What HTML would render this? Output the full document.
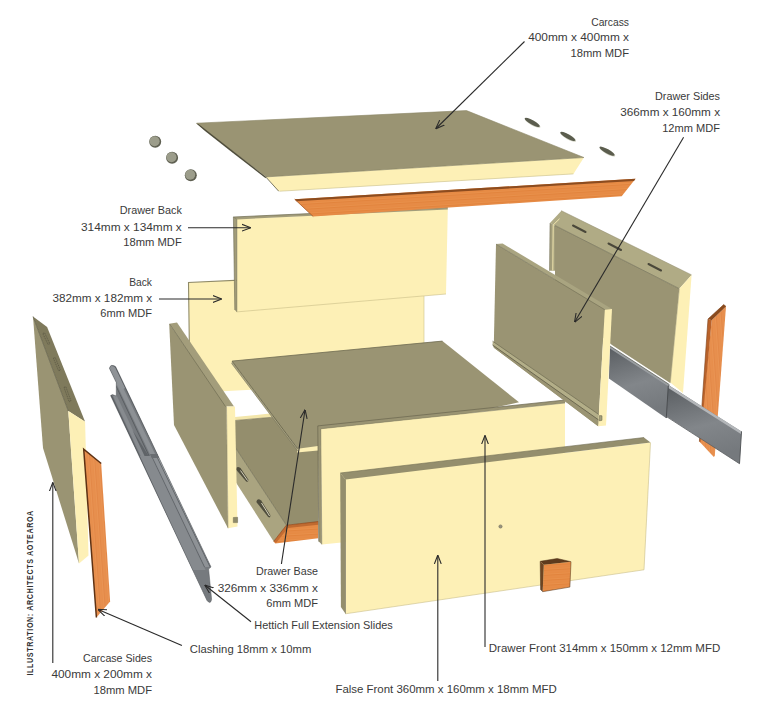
<!DOCTYPE html>
<html><head><meta charset="utf-8">
<style>
html,body{margin:0;padding:0;background:#fff;}
body{width:758px;height:708px;overflow:hidden;}
svg{display:block;}
text{font-family:"Liberation Sans",sans-serif;font-size:11.5px;fill:#3a3a3a;}
</style></head>
<body>
<svg width="758" height="708" viewBox="0 0 758 708">
<defs>
<marker id="ah" viewBox="0 0 10 10" refX="9.5" refY="5" markerWidth="9" markerHeight="9" markerUnits="userSpaceOnUse" orient="auto">
<path d="M0,1.2 L10,5 L0,8.8" fill="none" stroke="#2a2a2a" stroke-width="1.2"/>
</marker>
<linearGradient id="sg1" x1="0" y1="0" x2="0.25" y2="1">
<stop offset="0" stop-color="#585c60"/><stop offset="0.6" stop-color="#82868a"/><stop offset="1" stop-color="#75797d"/>
</linearGradient>
<pattern id="grainH" patternUnits="userSpaceOnUse" width="60" height="5" patternTransform="rotate(-3.5)">
<rect width="60" height="5" fill="#e5873f"/>
<rect y="0.8" width="60" height="0.9" fill="#ea9450"/>
<rect y="2.6" width="60" height="0.5" fill="#df7f3a"/>
<rect y="3.6" width="60" height="0.8" fill="#e99250"/>
</pattern>
<pattern id="grainV" patternUnits="userSpaceOnUse" width="5" height="60" patternTransform="rotate(-4)">
<rect width="5" height="60" fill="#e68b49"/>
<rect x="0.8" width="0.9" height="60" fill="#eb9858"/>
<rect x="2.6" width="0.5" height="60" fill="#df8443"/>
<rect x="3.6" width="0.8" height="60" fill="#ea9656"/>
</pattern>
</defs>
<rect width="758" height="708" fill="#fff"/>

<!-- ===== dowels left ===== -->
<g>
<ellipse cx="155.2" cy="141.8" rx="6" ry="6" fill="#5f6052"/>
<ellipse cx="154.6" cy="141.2" rx="5" ry="5" fill="#9c9d8b"/>
<ellipse cx="172.1" cy="157.8" rx="6" ry="6" fill="#5f6052"/>
<ellipse cx="171.5" cy="157.2" rx="5" ry="5" fill="#9c9d8b"/>
<ellipse cx="190.8" cy="175.3" rx="6" ry="6" fill="#5f6052"/>
<ellipse cx="190.2" cy="174.7" rx="5" ry="5" fill="#9c9d8b"/>
</g>
<!-- dowels right -->
<g>
<ellipse cx="532.7" cy="123.0" rx="8.8" ry="2.5" transform="rotate(29 532.7 123.0)" fill="#d2d3c4"/>
<ellipse cx="532.2" cy="122.4" rx="8.6" ry="2.2" transform="rotate(29 532.2 122.4)" fill="#5b5d4e"/>
<ellipse cx="568.3" cy="137.0" rx="8.8" ry="2.5" transform="rotate(29 568.3 137.0)" fill="#d2d3c4"/>
<ellipse cx="567.8" cy="136.4" rx="8.6" ry="2.2" transform="rotate(29 567.8 136.4)" fill="#5b5d4e"/>
<ellipse cx="607.5" cy="151.8" rx="8.8" ry="2.5" transform="rotate(29 607.5 151.8)" fill="#d2d3c4"/>
<ellipse cx="607.0" cy="151.2" rx="8.6" ry="2.2" transform="rotate(29 607.0 151.2)" fill="#5b5d4e"/>
</g>

<!-- ===== carcass top panel ===== -->
<polygon points="196.1,123.3 466.5,110.6 583.9,157.5 266.2,177" fill="#9a9473"/>
<polygon points="266.2,177 583.9,157.5 573.4,173.9 278.8,191.3" fill="#fdf0b6"/>
<polygon points="196.1,123.3 198.5,123.9 266.2,177 265.6,178.2 232,152.2 205,131" fill="#4f4d3b"/>
<line x1="266" y1="177.2" x2="278.8" y2="191.3" stroke="#6d6a50" stroke-width="0.9"/>
<polyline points="196.6,123.2 466.5,110.6 583.9,157.5" fill="none" stroke="#8b8667" stroke-width="0.6"/>
<line x1="265.8" y1="176.9" x2="583.9" y2="157.5" stroke="#8a8566" stroke-width="0.7"/>
<line x1="280" y1="191.2" x2="573.4" y2="173.9" stroke="#c8bd8a" stroke-width="0.6"/>

<!-- ===== back panel ===== -->
<polygon points="188.5,282.5 424,271.5 424,381 190,393" fill="#fdf0b6"/>
<polyline points="190,393 188.5,282.5 424,271.5" fill="none" stroke="#8f8a68" stroke-width="1.1"/>
<polyline points="424,296 424,381" fill="none" stroke="#cfc48f" stroke-width="0.6"/>

<!-- ===== drawer back panel ===== -->
<polygon points="236.8,219 447.8,209 446,294 236.8,311.9" fill="#fdf0b6"/>
<polygon points="233.4,217 447.8,207.4 447.8,209.4 236.8,219.4" fill="#a29c79"/>
<line x1="233.4" y1="217" x2="447.8" y2="207.4" stroke="#6f6b52" stroke-width="0.7"/>
<polygon points="233.4,217 236.8,219.4 236.8,311.9 234.8,310" fill="#a29c79"/>
<polyline points="234.8,310 233.4,217 236.8,219.4 236.8,311.9" fill="none" stroke="#6f6b52" stroke-width="0.6"/>
<line x1="236.8" y1="311.9" x2="446" y2="294" stroke="#c9bd88" stroke-width="0.6"/>

<!-- ===== orange clashing top ===== -->
<polygon points="294.7,199.2 635.5,178.8 621.7,196.3 313.2,216.5" fill="url(#grainH)"/>
<polygon points="294.7,199.2 635.5,178.8 634,181 296.5,201.3" fill="#8c4c1f"/>
<line x1="294.7" y1="199.2" x2="313.2" y2="216.5" stroke="#a85a26" stroke-width="0.8"/>

<!-- ===== drawer interior (behind left drawer side) ===== -->
<polygon points="235,420.5 275,417 297,449 318,446 318,522 286.4,525.2 235,447" fill="#948e6d"/>
<polygon points="235,417.1 272,413.3 275,417 235,420.5" fill="#f3e6ab"/>
<line x1="235" y1="420.5" x2="275" y2="417" stroke="#7f7a5e" stroke-width="0.7"/>
<polygon points="235,447 286.4,525.2 273.7,541.4 235,481" fill="#aaa480"/>
<line x1="235" y1="447" x2="286.4" y2="525.2" stroke="#6d6a50" stroke-width="0.7"/>
<polygon points="273.7,541.4 286.4,525.2 318.2,521.6 318.2,538.3 275.3,543.4" fill="url(#grainH)"/>
<polygon points="286.4,525.2 318.2,521.6 318.2,524.8 288,528" fill="#c06a30"/>
<polygon points="273.7,541.4 286.4,525.2 288,528 276,543" fill="#c46c32"/>
<polyline points="273.7,541.4 286.4,525.2 318.2,521.6" fill="none" stroke="#7a4019" stroke-width="0.6"/>

<polygon points="297,447.5 318,445.5 318,450.5 297,452.5" fill="#fdf0b6"/>
<g>
<path d="M236,469.5 Q236.5,465.5 240.5,468 L248.3,479.5 Q248.6,482.8 246.2,481.5 Z" fill="#4f4d3d"/>
<line x1="240.5" y1="470.5" x2="247.6" y2="480.6" stroke="#e4e0c8" stroke-width="0.9"/>
<path d="M256.3,502 Q257,497.5 261.2,500.5 L270.3,515 Q270.6,518.5 268.2,517 Z" fill="#4f4d3d"/>
<line x1="261.5" y1="503" x2="269.6" y2="516" stroke="#e4e0c8" stroke-width="0.9"/>
</g>

<!-- ===== drawer base ===== -->
<polygon points="232.1,361.1 442.4,341.1 519,402.3 318,446 297.6,448.7" fill="#9a9473"/>
<polygon points="232.1,361.1 297.6,448.7 298,451.5 231.5,363.3" fill="#aaa482"/>
<line x1="232.1" y1="361.1" x2="297.6" y2="448.7" stroke="#625f48" stroke-width="0.8"/>
<line x1="231.5" y1="363.3" x2="298" y2="451.5" stroke="#76725a" stroke-width="0.6"/>
<line x1="232.1" y1="361.1" x2="442.4" y2="341.1" stroke="#6f6b52" stroke-width="0.8"/>

<!-- ===== left drawer side ===== -->
<polygon points="169.2,323.7 226.5,406.5 228,528.3 174,425" fill="#9a9473"/>
<polygon points="169.2,323.7 177,322.5 234,406.5 225.5,406.5" fill="#a39d7b"/>
<line x1="169.6" y1="324" x2="225.5" y2="406.5" stroke="#6f6b52" stroke-width="0.7"/>
<polygon points="226.5,406.5 235,406.5 237.5,526.5 228,528.3" fill="#fdf0b6"/>
<line x1="226.5" y1="406.5" x2="228" y2="528.3" stroke="#8a8566" stroke-width="0.5"/>
<polygon points="233.3,517.5 237.6,517.3 237.6,522.6 233.3,522.6" fill="#8f8a6a" stroke="#6f6b52" stroke-width="0.5"/>

<!-- ===== drawer front ===== -->
<polygon points="320.8,428.8 565,403 565,520 321.8,544.4" fill="#fdf0b6"/>
<polygon points="317.8,425.9 565.1,400 565.1,403 320.8,428.8" fill="#9a9473"/>
<polygon points="317.8,425.9 320.8,428.8 321.8,544.4 318.8,541.5" fill="#9a9473"/>
<polyline points="318.8,541.5 317.8,425.9 565.1,400" fill="none" stroke="#6a664f" stroke-width="0.7"/>
<line x1="320.8" y1="428.8" x2="565" y2="403" stroke="#7f7a5e" stroke-width="0.5"/>
<line x1="320.8" y1="428.8" x2="321.8" y2="544.4" stroke="#7f7a5e" stroke-width="0.5"/>

<!-- ===== right carcass side ===== -->
<polygon points="555,225.5 679.3,288.7 670.5,383.3 612,345 555,300" fill="#9a9473"/>
<polygon points="550,223 561.4,210.7 691.6,274.9 679.3,288.7 555,225.5" fill="#b0ab85"/>
<line x1="555" y1="225.5" x2="679.3" y2="288.7" stroke="#6f6b52" stroke-width="0.7"/>
<line x1="561.1" y1="210.6" x2="691.6" y2="274.9" stroke="#8c8767" stroke-width="0.5"/>
<polygon points="550,223 555,225.5 555,270.7 549.5,270.7" fill="#a39e7b"/>
<line x1="550" y1="223" x2="549.5" y2="270.7" stroke="#6f6b52" stroke-width="0.5"/>
<polyline points="552.8,270.5 553.2,225 559.5,218.8" fill="none" stroke="#f3e8b0" stroke-width="1"/>
<polygon points="679.3,288.7 691.6,274.9 683,393 670.3,382.5" fill="#fdf0b6"/>
<line x1="679.3" y1="288.7" x2="670.3" y2="382.5" stroke="#a29c78" stroke-width="0.6"/>
<g stroke="#4a483a" stroke-width="2" stroke-linecap="round">
<line x1="573" y1="225.5" x2="585.5" y2="232"/>
<line x1="608.5" y1="243.5" x2="621" y2="250"/>
<line x1="648.5" y1="264" x2="661" y2="270.5"/>
</g>

<!-- ===== orange clashing right ===== -->
<polygon points="711.7,320.3 726,306.5 714.8,455.8 713.8,457 699.6,441.8" fill="url(#grainV)"/>
<polygon points="708,319 711.7,320.3 700.5,442.5 699.4,441.5" fill="#b9622a"/>
<polygon points="708,319 723.7,304.6 726,306.5 711.7,320.3" fill="#8a4a1c"/>
<polyline points="699.4,441.5 708,319 723.7,304.6 726,306.5" fill="none" stroke="#7a4019" stroke-width="0.6"/>

<!-- ===== right slide ===== -->
<polygon points="609.9,345.9 669.3,384.5 666.3,418.2 608.9,378.6" fill="url(#sg1)"/>
<polygon points="609.9,345.9 669.3,384.5 669.3,387 609.9,348.4" fill="#9a9ea1"/>
<line x1="609.9" y1="345.9" x2="669.3" y2="384.5" stroke="#5e6054" stroke-width="0.6"/>
<polygon points="668.3,385.1 741.5,431.4 739.5,463.7 666.3,416.2" fill="url(#sg1)"/>
<polygon points="668.3,385.1 741.5,431.4 741.3,434.2 668.3,387.9" fill="#b3b6b9"/>
<line x1="668.3" y1="385.5" x2="666.3" y2="418" stroke="#4a4d50" stroke-width="1"/>
<line x1="741.5" y1="431.4" x2="739.5" y2="463.7" stroke="#55585b" stroke-width="1"/>
<line x1="666.3" y1="416.5" x2="739.5" y2="463.7" stroke="#5a5d60" stroke-width="0.8"/>

<!-- ===== right drawer side ===== -->
<polygon points="496,244.1 604.8,309.7 598.2,426.2 493.9,347.7 493.9,341"  fill="#9a9473"/>
<polygon points="492.6,341.2 601,416 600,420.9 492.6,345" fill="#b3ae88"/>
<polygon points="492.6,345 600,420.9 598.2,426.2 493.9,347.7" fill="#9a9473"/>
<line x1="492.6" y1="341.2" x2="601" y2="416" stroke="#6f6b52" stroke-width="0.7"/>
<line x1="492.6" y1="345" x2="600" y2="420.9" stroke="#5f5c46" stroke-width="0.8"/>
<polygon points="496,244.1 502.6,243.5 612,308.9 604.8,309.7" fill="#a9a480"/>
<line x1="496" y1="244.1" x2="604.8" y2="309.7" stroke="#6f6b52" stroke-width="0.6"/>
<polygon points="604.8,309.7 612,308.9 606,425.5 598.2,426.2" fill="#fdf0b6"/>
<polygon points="599.5,415.5 602,415.8 602,420.3 599.3,420.9" fill="#a39e7c" stroke="#5f5c46" stroke-width="0.5"/>

<!-- ===== false front ===== -->
<polygon points="345.5,479.5 650.5,442.6 644,569.8 345.5,613.8" fill="#fdf0b6"/>
<polygon points="340.2,473 644,437.5 650.5,442.6 345.5,479.5" fill="#948e6d"/>
<polygon points="340.2,473 345.5,479.5 345.5,613.8 340.9,607" fill="#948e6d"/>
<line x1="345.5" y1="479.5" x2="345.5" y2="613.8" stroke="#6f6b52" stroke-width="0.5"/>
<line x1="340.2" y1="473" x2="644" y2="437.5" stroke="#6f6b52" stroke-width="0.6"/>
<line x1="345.5" y1="613.8" x2="644" y2="569.8" stroke="#c9bd88" stroke-width="0.6"/>
<line x1="650.5" y1="442.6" x2="644" y2="569.8" stroke="#c9bd88" stroke-width="0.6"/>
<circle cx="500.5" cy="526.5" r="1.6" fill="#9a9580" stroke="#6a6656" stroke-width="0.6"/>

<!-- handle block -->
<polygon points="543.8,564.8 571,561.7 569.9,587.1 542.7,591.7" fill="url(#grainH)"/>
<polygon points="540.2,561.3 557.2,558.5 571,561.7 543.8,564.8" fill="#5e3b1d"/>
<polygon points="540.2,561.3 543.8,564.8 542.7,591.7 540.6,589.5" fill="#6e4522"/>
<polyline points="540.2,561.3 557.2,558.5 571,561.7 569.9,587.1 542.7,591.7 540.6,589.5 540.2,561.3" fill="none" stroke="#4a2e16" stroke-width="0.5"/>

<!-- ===== left carcass side ===== -->
<polygon points="33,316.5 68.3,411 79,563.5 43,448" fill="#9a9473"/>
<polygon points="33,316.5 47.1,327.1 85.1,421.7 68.3,411" fill="#7f7a5c"/>
<g fill="none" stroke="#55523f" stroke-width="0.7" stroke-dasharray="1.2,0.8">
<polygon points="42.8,333.5 44.6,332.8 49.8,343.7 48,344.4"/>
<polygon points="53.4,358.2 55.2,357.5 60.4,370.2 58.6,370.9"/>
<polygon points="64,387.4 65.8,386.7 71,401.1 69.2,401.8"/>
</g>
<line x1="33" y1="316.5" x2="68.3" y2="411" stroke="#5f5b45" stroke-width="0.7"/>
<polygon points="68.3,411 85.1,421.7 88.5,555.6 79,563.5" fill="#fdf0b6"/>

<!-- left clashing -->
<polygon points="83.7,449.2 101.2,463.5 110.1,601.6 96.4,617.5" fill="url(#grainV)"/>
<polyline points="96.4,617.5 83.7,449.2 101.2,463.5" fill="none" stroke="#5e3214" stroke-width="1.5"/>

<!-- left slide -->
<defs><clipPath id="slclip"><path d="M109.5,368.5 Q110.5,363.2 115.7,366.8 L211,567 L208.6,569 L211.6,599.5 Q210.5,605 207,600.4 L110.6,395.6 L112.5,394.6 L116.3,396 L116.3,382.6 Z"/></clipPath></defs>
<path d="M109.5,368.5 Q110.5,363.2 115.7,366.8 L211,567 L208.6,569 L211.6,599.5 Q210.5,605 207,600.4 L110.6,395.6 L112.5,394.6 L116.3,396 L116.3,382.6 Z" fill="#767a7e"/>
<g clip-path="url(#slclip)">
<polygon points="108.0,390.0 109.5,390.0 211.0,610.0 209.0,610.0" fill="#5c6064"/>
<polygon points="113.1,396.0 116.9,396.0 145.0,456.0 140.8,456.0" fill="#878b8f"/>
<polygon points="110.4,375.0 111.2,375.0 149.6,456.0 148.7,456.0" fill="#55595d"/>
<polygon points="105.1,360.0 109.7,360.0 156.0,456.0 150.8,456.0" fill="#8d9195"/>
<polygon points="111.3,360.0 112.4,360.0 159.1,456.0 157.9,456.0" fill="#5a5e62"/>
<polygon points="132.4,430.0 148.7,456.0 144.6,456.0" fill="#5f6367"/>
<polygon points="140.0,456.0 151.2,456.0 205.5,570.0 192.6,570.0" fill="#868a8e"/>
<polygon points="151.2,456.0 152.1,456.0 205.1,567.0 204.1,567.0" fill="#62666a"/>
<polygon points="152.1,456.0 156.2,456.0 209.8,567.0 205.1,567.0" fill="#8e9296"/>
<polygon points="156.2,456.0 157.1,456.0 210.8,567.0 209.8,567.0" fill="#5f6367"/>
<polygon points="157.1,456.0 159.1,456.0 213.2,567.0 210.8,567.0" fill="#a6aaad"/>
<polygon points="149.9,454.0 158.8,454.0 160.7,458.0 151.8,458.0" fill="#6a6e72"/>
<path d="M111.5,368.5 Q112.5,365.5 115,367.5 L125,388 L121,390 Z" fill="#8f9397"/>
</g>
<path d="M109.5,368.5 Q110.5,363.2 115.7,366.8 L211,567 L208.6,569 L211.6,599.5 Q210.5,605 207,600.4 L110.6,395.6 L112.5,394.6 L116.3,396 L116.3,382.6 Z" fill="none" stroke="#55595d" stroke-width="0.5"/>

<!-- ===== arrows ===== -->
<g stroke="#2a2a2a" stroke-width="1.1" fill="none">
<line x1="524.5" y1="41.5" x2="436" y2="128.5" marker-end="url(#ah)"/>
<line x1="683.6" y1="137.2" x2="574.7" y2="322" marker-end="url(#ah)"/>
<line x1="188" y1="227.7" x2="250.5" y2="227.7" marker-end="url(#ah)"/>
<line x1="159" y1="299" x2="221.4" y2="299" marker-end="url(#ah)"/>
<line x1="281.4" y1="564" x2="305" y2="410" marker-end="url(#ah)"/>
<line x1="251" y1="621.8" x2="205" y2="585.3" marker-end="url(#ah)"/>
<line x1="181.9" y1="645.5" x2="98.2" y2="609.5" marker-end="url(#ah)"/>
<line x1="52.8" y1="663" x2="52.8" y2="482.8" marker-end="url(#ah)"/>
<line x1="485" y1="647" x2="485" y2="435.7" marker-end="url(#ah)"/>
<line x1="437.8" y1="681" x2="437.8" y2="555.4" marker-end="url(#ah)"/>
</g>

<!-- ===== labels ===== -->
<g text-anchor="end">
<text x="629" y="25.5" textLength="37.8" lengthAdjust="spacingAndGlyphs">Carcass</text>
<text x="629" y="41" textLength="100.8" lengthAdjust="spacingAndGlyphs">400mm x 400mm x</text>
<text x="629" y="56.5" textLength="58.5" lengthAdjust="spacingAndGlyphs">18mm MDF</text>
<text x="720" y="100" textLength="65" lengthAdjust="spacingAndGlyphs">Drawer Sides</text>
<text x="720" y="115.6" textLength="99.7" lengthAdjust="spacingAndGlyphs">366mm x 160mm x</text>
<text x="720" y="131.5" textLength="57.8" lengthAdjust="spacingAndGlyphs">12mm MDF</text>
<text x="181.8" y="214" textLength="62" lengthAdjust="spacingAndGlyphs">Drawer Back</text>
<text x="181.8" y="230.5" textLength="100.8" lengthAdjust="spacingAndGlyphs">314mm x 134mm x</text>
<text x="181.8" y="246" textLength="58.5" lengthAdjust="spacingAndGlyphs">18mm MDF</text>
<text x="152" y="286" textLength="22.8" lengthAdjust="spacingAndGlyphs">Back</text>
<text x="152" y="301.6" textLength="99.5" lengthAdjust="spacingAndGlyphs">382mm x 182mm x</text>
<text x="152" y="317" textLength="51.7" lengthAdjust="spacingAndGlyphs">6mm MDF</text>
<text x="318" y="575.4" textLength="62" lengthAdjust="spacingAndGlyphs">Drawer Base</text>
<text x="318" y="591.5" textLength="100.3" lengthAdjust="spacingAndGlyphs">326mm x 336mm x</text>
<text x="318" y="607" textLength="51.7" lengthAdjust="spacingAndGlyphs">6mm MDF</text>
<text x="152" y="661.7" textLength="69" lengthAdjust="spacingAndGlyphs">Carcase Sides</text>
<text x="152" y="677.5" textLength="100.6" lengthAdjust="spacingAndGlyphs">400mm x 200mm x</text>
<text x="152" y="693.6" textLength="58.5" lengthAdjust="spacingAndGlyphs">18mm MDF</text>
</g>
<text x="254.3" y="628.9" textLength="138.5" lengthAdjust="spacingAndGlyphs">Hettich Full Extension Slides</text>
<text x="189.8" y="652.6" textLength="121.5" lengthAdjust="spacingAndGlyphs">Clashing 18mm x 10mm</text>
<text x="488.8" y="652" textLength="231.5" lengthAdjust="spacingAndGlyphs">Drawer Front 314mm x 150mm x 12mm MFD</text>
<text x="335.4" y="693" textLength="221.4" lengthAdjust="spacingAndGlyphs">False Front 360mm x 160mm x 18mm MFD</text>
<text transform="translate(33.2,675.6) rotate(-90) scale(0.8,1)" style="font-size:8.8px;font-weight:bold;fill:#333" textLength="206" lengthAdjust="spacing">ILLUSTRATION: ARCHITECTS AOTEAROA</text>
</svg>
</body></html>
